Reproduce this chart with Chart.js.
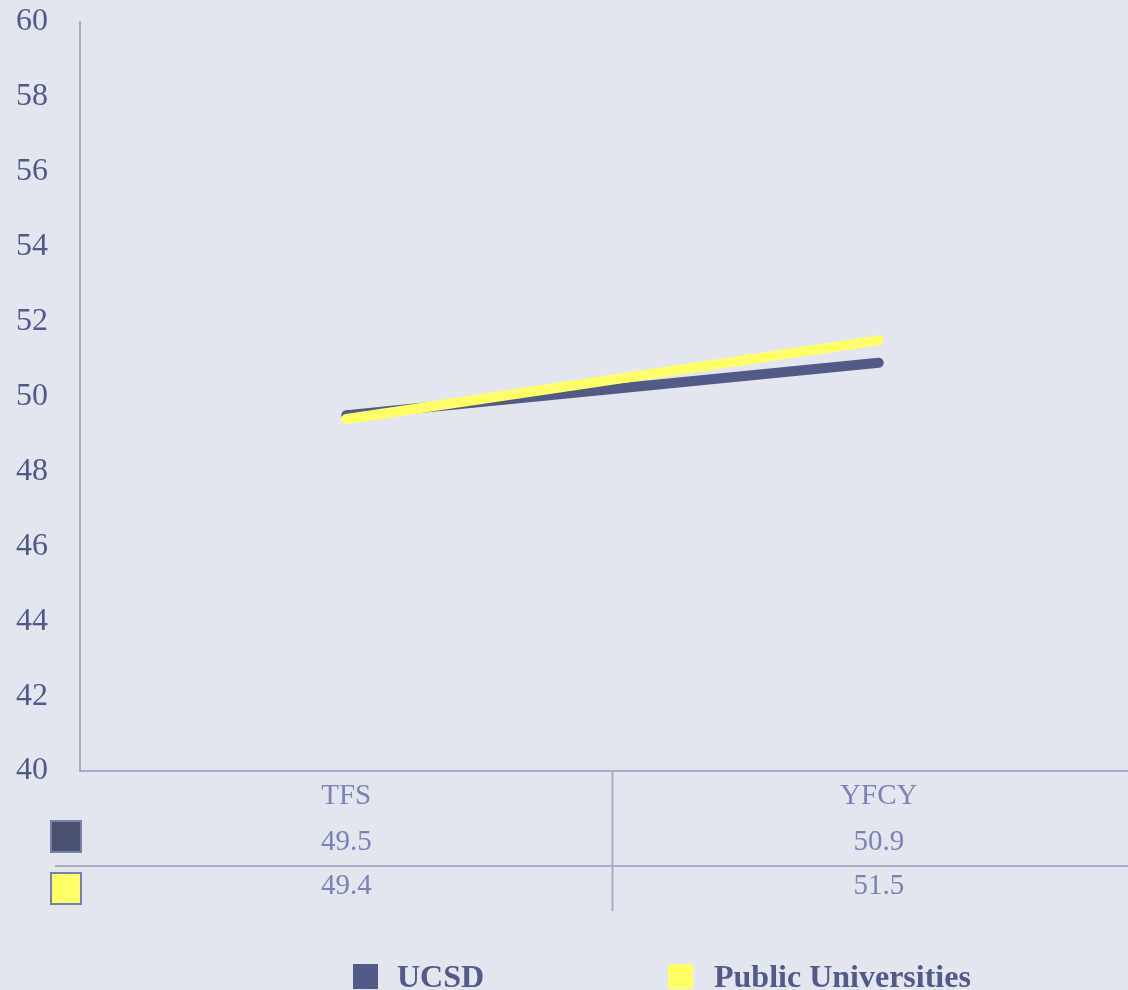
<!DOCTYPE html>
<html>
<head>
<meta charset="utf-8">
<script src="https://cdn.jsdelivr.net/npm/chart.js@4"></script>
<style>
  html, body { margin: 0; padding: 0; background: #e3e6ee; overflow: hidden; }
  #wrap { width: 1145px; height: 990px; }
</style>
</head>
<body>
<div id="wrap"><canvas id="surveyChart" width="1145" height="990"></canvas></div>
<script>
const categories = ["TFS", "YFCY"];
const ucsdValues = [49.5, 50.9];
const publicValues = [49.4, 51.5];
const seriesNames = ["UCSD", "Public Universities"];
const yTicks = [40, 42, 44, 46, 48, 50, 52, 54, 56, 58, 60];

const AXIS = "#a7acc7";
const TICK_TEXT = "#4f5a8a";
const TABLE_TEXT = "#7a83b3";
const SERIF = "'Liberation Serif', 'DejaVu Serif', serif";

const swatches = [
    { fill: "#4a5070", line: "#525a88" },
    { fill: "#ffff66", line: "#ffff66" }
];

// data table under the axis + bottom legend
const tablePlugin = {
    id: "dataTable",
    afterDraw(chart) {
        const c = chart.ctx;
        const x = chart.scales.x;
        const area = chart.chartArea;
        const b = area.bottom;
        const rows = [ucsdValues, publicValues];

        c.save();
        c.strokeStyle = AXIS;
        c.lineWidth = 2;
        // divider between categories
        const mid = (x.getPixelForValue(0) + x.getPixelForValue(1)) / 2;
        c.beginPath();
        c.moveTo(mid, b);
        c.lineTo(mid, b + 140);
        c.stroke();
        // row separator
        c.beginPath();
        c.moveTo(55, b + 95);
        c.lineTo(chart.width, b + 95);
        c.stroke();

        c.font = "29px " + SERIF;
        c.fillStyle = TABLE_TEXT;
        c.textAlign = "center";
        c.textBaseline = "middle";
        rows.forEach((vals, r) => {
            const y = b + 71 + r * 44;
            vals.forEach((v, i) => {
                c.fillText(v.toFixed(1), x.getPixelForValue(i), y);
            });
            // swatch
            c.fillStyle = swatches[r].fill;
            c.fillRect(51, y - 21 + r * 8, 30, 31);
            c.strokeStyle = "#7680b0";
            c.lineWidth = 2;
            c.strokeRect(51, y - 21 + r * 8, 30, 31);
            c.fillStyle = TABLE_TEXT;
        });

        // legend
        const legendX = [353, 668];
        c.font = "bold 32px " + SERIF;
        c.textAlign = "left";
        c.textBaseline = "alphabetic";
        seriesNames.forEach((name, i) => {
            c.fillStyle = swatches[i].line;
            c.fillRect(legendX[i], 964, 25, 25);
            c.fillStyle = "#525a88";
            c.fillText(name, legendX[i] + 44 + i * 2, 987);
        });
        c.restore();
    }
};

const ctx = document.getElementById("surveyChart").getContext("2d");

const surveyChart = new Chart(ctx, {
    type: "line",
    data: {
        labels: categories,
        datasets: [{
            label: seriesNames[0],
            data: ucsdValues,
            borderColor: swatches[0].line,
            borderWidth: 10,
            borderCapStyle: "round",
            pointRadius: 0,
            fill: false,
            order: 1
        }, {
            label: seriesNames[1],
            data: publicValues,
            borderColor: swatches[1].line,
            borderWidth: 10,
            borderCapStyle: "round",
            pointRadius: 0,
            fill: false,
            order: 0
        }]
    },
    options: {
        responsive: false,
        animation: false,
        layout: { padding: { top: 22, right: 0, left: 0, bottom: 0 } },
        plugins: {
            legend: { display: false },
            tooltip: { enabled: false }
        },
        scales: {
            x: {
                offset: true,
                grid: { display: false, drawTicks: false },
                border: { display: true, color: AXIS, width: 2 },
                ticks: {
                    color: TABLE_TEXT,
                    font: { family: SERIF, size: 29 },
                    padding: 8
                },
                afterFit(scale) {
                    scale.height = 219;
                    scale.paddingLeft = 0;
                    scale.paddingRight = 0;
                }
            },
            y: {
                min: 40,
                max: 60,
                grid: { display: false, drawTicks: false },
                border: { display: true, color: AXIS, width: 2 },
                afterBuildTicks(scale) {
                    scale.ticks = yTicks.map(v => ({ value: v }));
                },
                ticks: {
                    color: TICK_TEXT,
                    font: { family: SERIF, size: 32 },
                    padding: 32
                },
                afterFit(scale) {
                    scale.width = 80;
                    scale.paddingTop = 0;
                    scale.paddingBottom = 0;
                }
            }
        }
    },
    plugins: [tablePlugin]
});
</script>
</body>
</html>
